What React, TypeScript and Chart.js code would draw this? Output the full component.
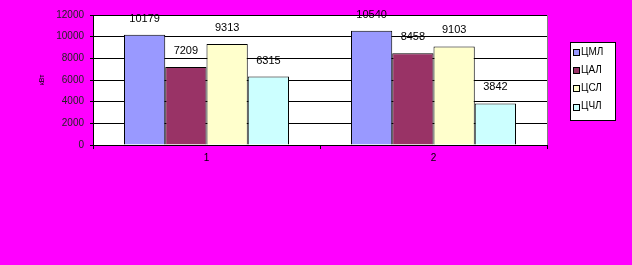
import React, { useEffect, useRef } from "react";
import { Chart, registerables } from "chart.js";

Chart.register(...registerables);

const categories = ["1", "2"];
const seriesNames = ["ЦМЛ", "ЦАЛ", "ЦСЛ", "ЦЧЛ"];
const seriesColors = ["#9999FF", "#993366", "#FFFFCC", "#CCFFFF"];
const valuesCML = [10179, 10540];
const valuesCAL = [7209, 8458];
const valuesCSL = [9313, 9103];
const valuesCCL = [6315, 3842];
const yTitle = "кВт";
const yMax = 12000;
const yStep = 2000;

const seriesValues = [valuesCML, valuesCAL, valuesCSL, valuesCCL];

const bgPlugin = {
  id: "bgPlugin",
  beforeDraw(chart: any) {
    const { ctx, chartArea } = chart;
    ctx.save();
    ctx.fillStyle = "#FF00FF";
    ctx.fillRect(0, 0, chart.width, chart.height);
    ctx.fillStyle = "#FFFFFF";
    ctx.fillRect(chartArea.left, chartArea.top, chartArea.right - chartArea.left, chartArea.bottom - chartArea.top);
    ctx.restore();
  },
  afterDraw(chart: any) {
    const { ctx, chartArea } = chart;
    ctx.save();
    ctx.strokeStyle = "#808080";
    ctx.lineWidth = 1;
    ctx.beginPath();
    ctx.moveTo(Math.round(chartArea.right) + 0.5, chartArea.top);
    ctx.lineTo(Math.round(chartArea.right) + 0.5, chartArea.bottom);
    ctx.stroke();
    ctx.restore();
  },
};

const labelPlugin = {
  id: "labelPlugin",
  afterDatasetsDraw(chart: any) {
    const { ctx } = chart;
    ctx.save();
    ctx.font = "11px Arial, 'Liberation Sans', sans-serif";
    ctx.fillStyle = "#000";
    ctx.textAlign = "center";
    ctx.textBaseline = "middle";
    chart.data.datasets.forEach((ds: any, i: number) => {
      const meta = chart.getDatasetMeta(i);
      meta.data.forEach((el: any, j: number) => {
        ctx.fillText(String(ds.data[j]), el.x, el.y - 16);
      });
    });
    ctx.restore();
  },
};

const legendPlugin = {
  id: "legendPlugin",
  afterDraw(chart: any) {
    const { ctx } = chart;
    const x0 = 570, y0 = 42, w = 45, h = 78;
    ctx.save();
    ctx.fillStyle = "#FFFFFF";
    ctx.fillRect(x0, y0, w, h);
    ctx.strokeStyle = "#000";
    ctx.lineWidth = 1;
    ctx.strokeRect(x0 + 0.5, y0 + 0.5, w, h);
    ctx.font = "10px Arial, 'Liberation Sans', sans-serif";
    ctx.textBaseline = "middle";
    ctx.textAlign = "left";
    chart.data.datasets.forEach((ds: any, i: number) => {
      const cy = 52 + i * 18.2;
      ctx.fillStyle = ds.backgroundColor;
      ctx.fillRect(573, Math.round(cy - 3), 6, 6);
      ctx.strokeStyle = "#000";
      ctx.strokeRect(573.5, Math.round(cy - 3) + 0.5, 6, 6);
      ctx.fillStyle = "#000";
      ctx.fillText(ds.label, 581, cy);
    });
    ctx.restore();
  },
};

export default function App() {
  const ref = useRef<HTMLCanvasElement>(null);
  useEffect(() => {
    if (!ref.current) return;
    const chart = new Chart(ref.current, {
      type: "bar",
      data: {
        labels: categories,
        datasets: seriesNames.map((name, i) => ({
          label: name,
          data: seriesValues[i],
          backgroundColor: seriesColors[i],
          borderColor: "#000",
          borderWidth: 1,
          barPercentage: 1,
          categoryPercentage: 0.727,
        })),
      },
      options: {
        responsive: false,
        devicePixelRatio: 1,
        animation: false,
        layout: { padding: { top: 15, right: 85, left: 0, bottom: 0 } },
        plugins: {
          legend: { display: false },
          tooltip: { enabled: false },
        },
        scales: {
          x: {
            offset: true,
            grid: { offset: true, drawOnChartArea: false, color: "#000", tickLength: 4 },
            border: { color: "#000" },
            ticks: { color: "#000", font: { size: 10, family: "Arial, 'Liberation Sans', sans-serif" }, padding: 3 },
            afterFit: (s: any) => { s.height = 120; },
          },
          y: {
            min: 0,
            max: yMax,
            ticks: {
              stepSize: yStep,
              color: "#222",
              font: { size: 10, family: "Arial, 'Liberation Sans', sans-serif" },
              padding: 6,
              callback: (v: any) => String(v),
            },
            grid: { color: "#000", tickLength: 3 },
            border: { color: "#000" },
            title: {
              display: true,
              text: yTitle,
              color: "#000",
              font: { size: 7, family: "Arial, 'Liberation Sans', sans-serif" },
              padding: { top: 38, bottom: 0 },
            },
            afterFit: (s: any) => { s.width = 93; },
          },
        },
      },
      plugins: [bgPlugin, labelPlugin, legendPlugin],
    });
    return () => chart.destroy();
  }, []);
  return (
    <div style={{ position: "fixed", left: 0, top: 0, width: 632, height: 265 }}>
      <canvas ref={ref} width={632} height={265} style={{ display: "block", width: 632, height: 265 }} />
    </div>
  );
}
